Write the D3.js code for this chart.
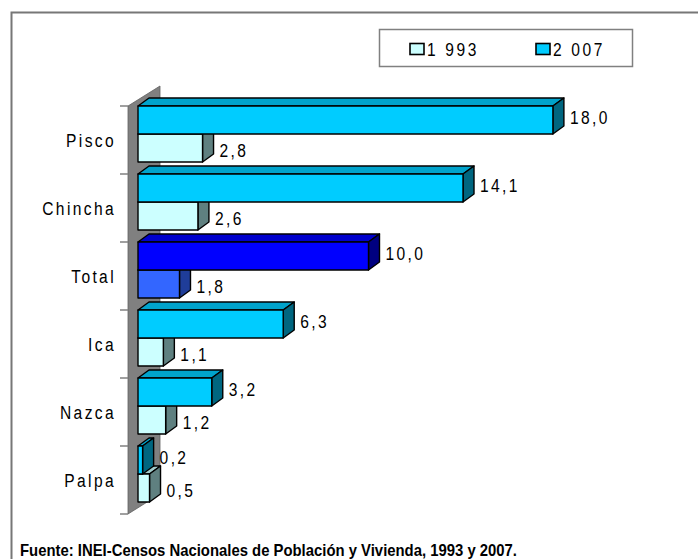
<!DOCTYPE html>
<html>
<head>
<meta charset="utf-8">
<script src="https://cdn.jsdelivr.net/npm/d3@7"></script>
<style>
  html, body { margin: 0; padding: 0; background: #fff; }
  svg { display: block; }
  text { font-family: "Liberation Sans", Arial, sans-serif; fill: #000; }
</style>
</head>
<body>
<svg id="chart" width="698" height="559"></svg>
<script>
// Provinces of Ica, top to bottom, with the "Total" row in the middle
const categories = ["Pisco", "Chincha", "Total", "Ica", "Nazca", "Palpa"];
const seriesNames = ["1 993", "2 007"];
const values1993 = [2.8, 2.6, 1.8, 1.1, 1.2, 0.5];
const values2007 = [18.0, 14.1, 10.0, 6.3, 3.2, 0.2];
const source = "Fuente: INEI-Censos Nacionales de Población y Vivienda, 1993 y 2007.";

const W = 698, H = 559;
const svg = d3.select("#chart");

// Oblique 3D offsets
const bd = { dx: 11, dy: -8 };   // bar depth
const wd = { dx: 32, dy: -20 };  // wall depth

const x = d3.scaleLinear().domain([0, 20]).range([138, 599]);
const y = d3.scaleBand().domain(categories).range([106, 514]).paddingInner(0).paddingOuter(0);
const barH = 28;

const fmt = d3.formatLocale({ decimal: ",", thousands: ".", grouping: [3], currency: ["", ""] }).format(".1f");

// Condensed text: regular sans squeezed horizontally
const NARROW = 0.82;
function narrowText(g, tx, ty, str, opts = {}) {
  return g.append("text")
    .attr("transform", `translate(${tx},${ty}) scale(${NARROW},1)`)
    .attr("text-anchor", opts.anchor || "start")
    .attr("dominant-baseline", "central")
    .attr("font-size", opts.size || 19)
    .attr("letter-spacing", opts.spacing != null ? opts.spacing : 2.9)
    .text(str);
}

// Colour sets: front, top, side
const pal = {
  "1993": { front: "#CCFFFF", top: "#A3CCCC", side: "#5F8080" },
  "2007": { front: "#00CCFF", top: "#00A3CC", side: "#006680" },
  "1993T": { front: "#3366FF", top: "#2952CC", side: "#1F3D99" },
  "2007T": { front: "#0000FF", top: "#0000CC", side: "#000080" }
};

// Outer frame (left and top edges)
svg.append("path")
  .attr("d", `M11.5,${H} V12.5 H${W}`)
  .attr("fill", "none").attr("stroke", "#777").attr("stroke-width", 2);

// Side wall
const [y0, y1] = y.range();
const wx = 128;
svg.append("polygon")
  .attr("points", [[wx, y0], [wx + wd.dx, y0 + wd.dy], [wx + wd.dx, y1 + wd.dy], [wx, y1]].map(p => p.join(",")).join(" "))
  .attr("fill", "#808080").attr("stroke", "#606060").attr("stroke-width", 0.8);

// Category ticks
const ticks = categories.map(c => y(c)).concat([y1]);
svg.selectAll("line.tick").data(ticks).enter().append("line")
  .attr("class", "tick")
  .attr("x1", 120).attr("x2", wx).attr("y1", d => d).attr("y2", d => d)
  .attr("stroke", "#808080").attr("stroke-width", 1.5);

// Category labels
const catG = svg.append("g");
categories.forEach(c => narrowText(catG, 116, y(c) + y.bandwidth() / 2, c, { anchor: "end" }));

function bar(g, x0, x1, top, h, c) {
  const xf = Math.max(x1, x0 + 0.01);
  const pts = a => a.map(p => p.join(",")).join(" ");
  g.append("polygon")
    .attr("points", pts([[x0, top], [x0 + bd.dx, top + bd.dy], [xf + bd.dx, top + bd.dy], [xf, top]]))
    .attr("fill", c.top);
  g.append("polygon")
    .attr("points", pts([[xf, top], [xf + bd.dx, top + bd.dy], [xf + bd.dx, top + h + bd.dy], [xf, top + h]]))
    .attr("fill", c.side);
  g.append("rect")
    .attr("x", x0).attr("y", top).attr("width", xf - x0).attr("height", h)
    .attr("fill", c.front);
  g.selectAll("*").attr("stroke", "#000").attr("stroke-width", 1.4).attr("stroke-linejoin", "round");
}

const bars = svg.append("g");
categories.forEach((c, i) => {
  const top = y(c);
  const isT = c === "Total";
  // 1993 (lower bar) first, 2007 drawn over its top face
  bar(bars.append("g"), x(0), x(values1993[i]), top + barH, barH, pal[isT ? "1993T" : "1993"]);
  bar(bars.append("g"), x(0), x(values2007[i]), top, barH, pal[isT ? "2007T" : "2007"]);
});

// Value labels
const lab = svg.append("g");
categories.forEach((c, i) => {
  const top = y(c);
  narrowText(lab, x(values2007[i]) + bd.dx + 6, top + 11, fmt(values2007[i]));
  narrowText(lab, x(values1993[i]) + bd.dx + 6, top + 44, fmt(values1993[i]));
});

// Legend
const lg = svg.append("g");
lg.append("rect").attr("x", 379.5).attr("y", 29.5).attr("width", 253).attr("height", 37)
  .attr("fill", "#fff").attr("stroke", "#808080").attr("stroke-width", 1.5);
const legendFill = [pal["1993"].front, pal["2007"].front];
const legendX = [410, 536];
seriesNames.forEach((s, i) => {
  lg.append("rect").attr("x", legendX[i]).attr("y", 43.5).attr("width", 14).attr("height", 11)
    .attr("fill", legendFill[i]).attr("stroke", "#000").attr("stroke-width", 1.6);
  narrowText(lg, legendX[i] + 17, 49, s, { size: 19, spacing: 3.2 });
});

// Source note
svg.append("text")
  .attr("x", 20).attr("y", 556)
  .attr("font-size", 17).attr("font-weight", "bold")
  .attr("textLength", 497).attr("lengthAdjust", "spacingAndGlyphs")
  .text(source);
</script>
</body>
</html>
